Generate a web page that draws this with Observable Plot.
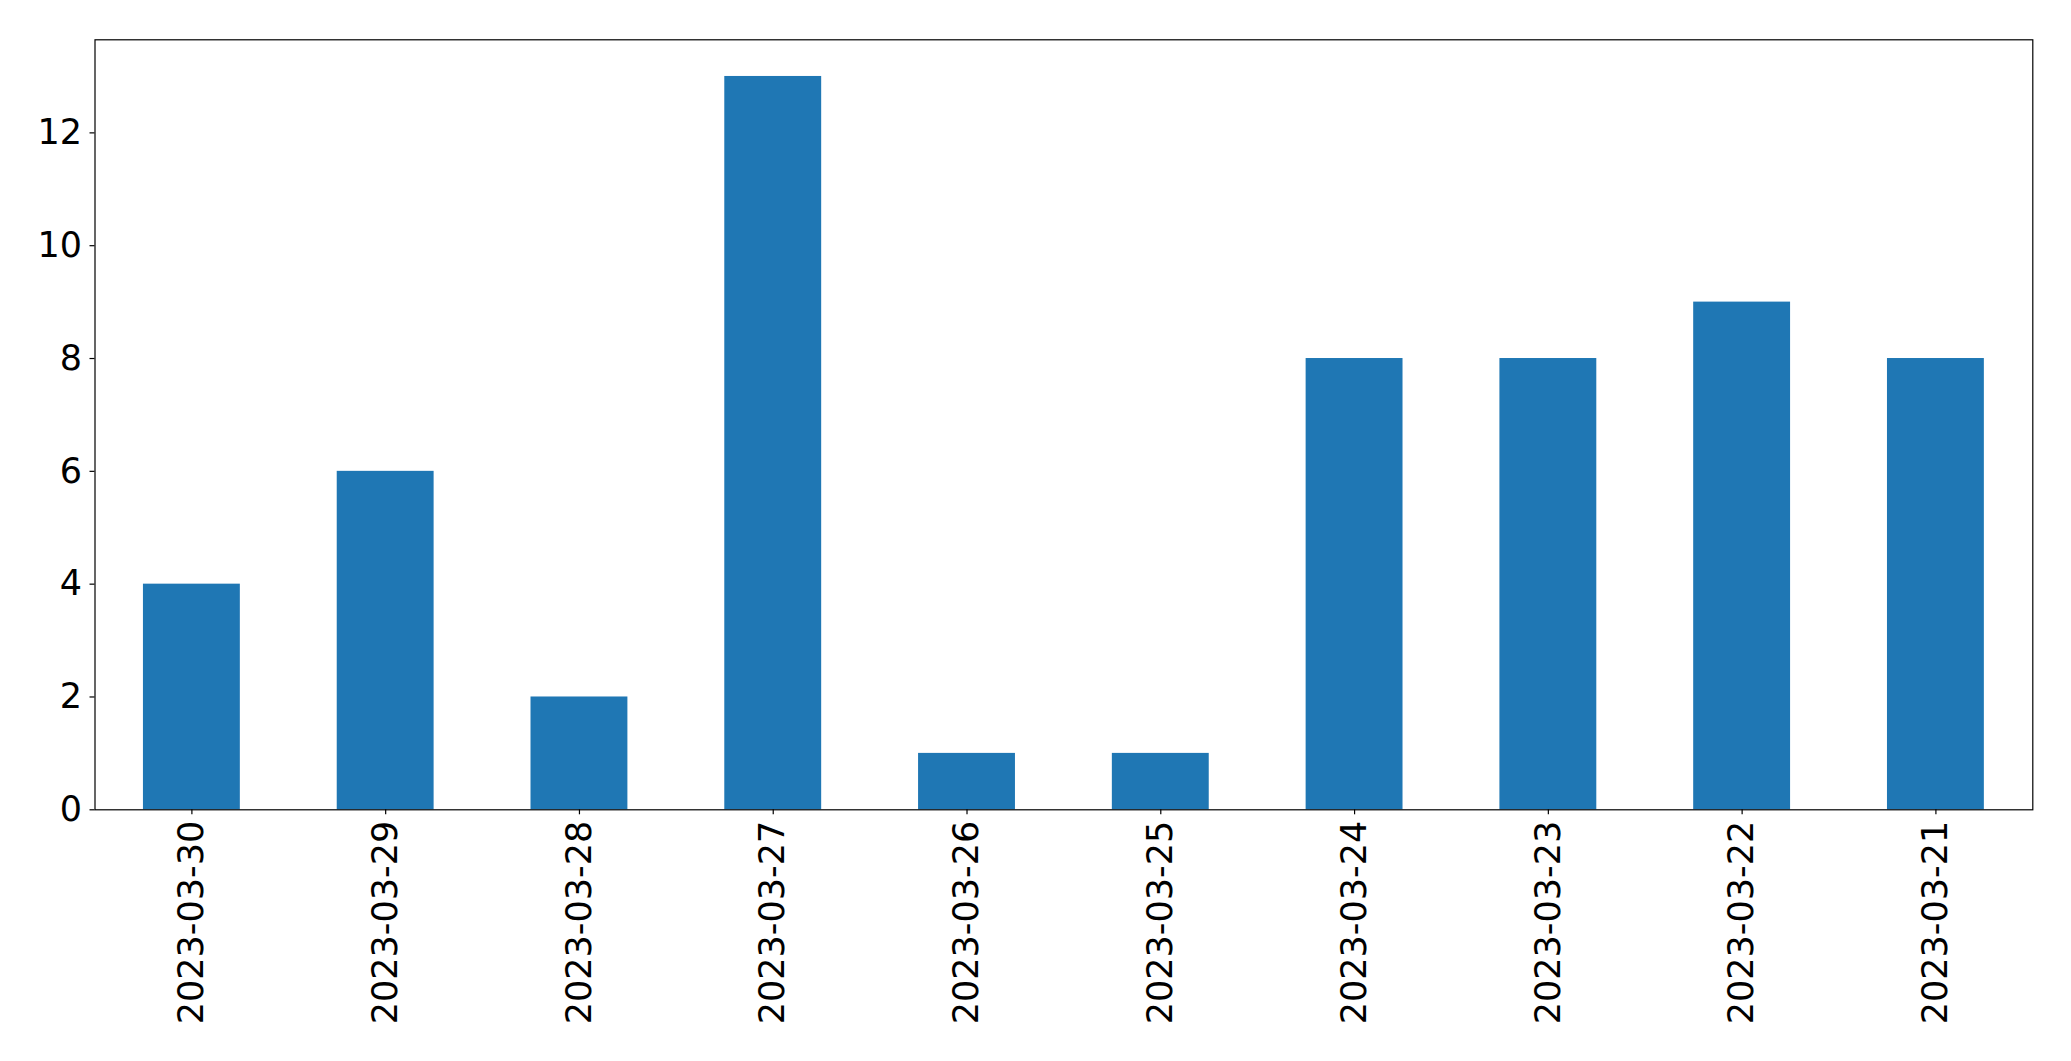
<!DOCTYPE html>
<html>
<head>
<meta charset="utf-8">
<script src="https://cdn.jsdelivr.net/npm/d3@7"></script>
<script src="https://cdn.jsdelivr.net/npm/@observablehq/plot@0.6"></script>
<style>
  html, body { margin: 0; padding: 0; background: #fff; overflow: hidden; }
  #chart svg { display: block; }
</style>
</head>
<body>
<div id="chart"></div>
<script>
const dates = ["2023-03-30","2023-03-29","2023-03-28","2023-03-27","2023-03-26","2023-03-25","2023-03-24","2023-03-23","2023-03-22","2023-03-21"];
const counts = [4, 6, 2, 13, 1, 1, 8, 8, 9, 8];
const yTicks = [0, 2, 4, 6, 8, 10, 12];

const data = dates.map((d, i) => ({date: d, count: counts[i]}));

const chart = Plot.plot({
  width: 2071,
  height: 1061,
  marginLeft: 94.5,
  marginRight: 38.7,
  marginTop: 39.3,
  marginBottom: 251.7,
  style: {fontFamily: "'DejaVu Sans', sans-serif", fontSize: "35px", color: "black", background: "white"},
  x: {domain: dates, paddingInner: 0.5, paddingOuter: 0.25, round: false},
  y: {domain: [0, 13.65]},
  marks: [
    Plot.barY(data, {x: "date", y: "count", fill: "#1f77b4"}),
    Plot.axisY({ticks: yTicks, tickSize: 5, tickPadding: 8, fontSize: 35, label: null, tickFormat: d => String(d), strokeWidth: 1.2}),
    Plot.axisX({tickSize: 5, tickPadding: 6, tickRotate: -90, fontSize: 35, label: null, strokeWidth: 1.2}),
    Plot.frame({stroke: "black", strokeWidth: 1.2})
  ]
});
document.getElementById("chart").appendChild(chart);
</script>
</body>
</html>
